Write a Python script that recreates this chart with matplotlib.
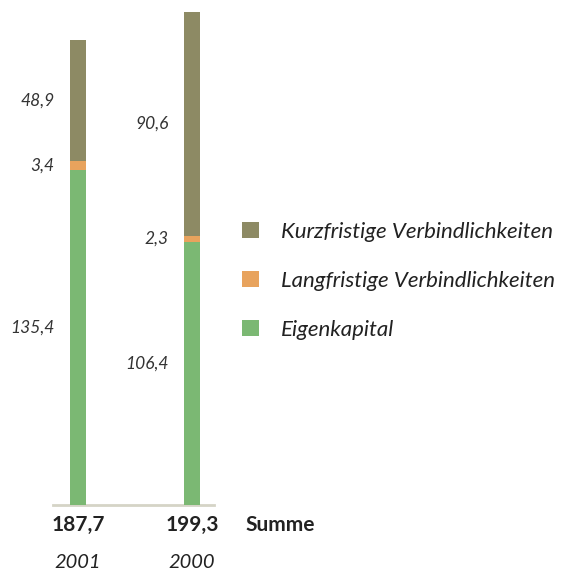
import matplotlib.pyplot as plt
import numpy as np

# Daten (Mio.)
jahre = ['2001', '2000']
summen = ['187,7', '199,3']
eigenkapital = [135.4, 106.4]
langfristig = [3.4, 2.3]
kurzfristig = [48.9, 90.6]

serien = ['Eigenkapital', 'Langfristige Verbindlichkeiten', 'Kurzfristige Verbindlichkeiten']
farben = ['#7bb873', '#e8a35d', '#8d8a64']

plt.rcParams['font.family'] = ['Lato', 'DejaVu Sans']

W, H = 568, 573
fig = plt.figure(figsize=(W / 100, H / 100), dpi=100)

# Achse in Pixelkoordinaten ausrichten
base_px = 505
x0_px, x1_px = 53, 214
ax = fig.add_axes([x0_px / W, (H - base_px) / H, (x1_px - x0_px) / W, base_px / H])
px_per_x = 114.0
ax.set_xlim(-(78 - x0_px) / px_per_x, 1 + (x1_px - 192) / px_per_x)
ax.set_ylim(0, base_px / 2.475)
ax.axis('off')

x = np.arange(len(jahre))
bw = 16 / px_per_x
bottom = np.zeros(len(jahre))
bars = []
for werte, name, farbe in zip([eigenkapital, langfristig, kurzfristig], serien, farben):
    b = ax.bar(x, werte, bw, bottom=bottom, color=farbe, label=name, zorder=2)
    bars.append(b)
    for xi, v, b0 in zip(x, werte, bottom):
        ax.text(xi - 0.205, b0 + v / 2 + (4 if v > 100 else 0), f"{v:.1f}".replace('.', ','),
                ha='right', va='center', fontsize=12.5, style='italic', color='#333333')
    bottom = bottom + np.array(werte)

ax.axhline(0, color='#d5d4c6', lw=2, zorder=1, clip_on=False)

# Summen und Jahre
for xi, s, j in zip(x, summen, jahre):
    ax.annotate(s, (xi, 0), xytext=(0, -20), textcoords='offset pixels', ha='center', va='center',
                fontsize=15, fontweight='bold', color='#222222', annotation_clip=False)
    ax.annotate(j, (xi, 0), xytext=(0, -57), textcoords='offset pixels', ha='center', va='center',
                fontsize=14.5, style='italic', color='#222222', annotation_clip=False)
fig.text(245 / W, 1 - 525 / H, 'Summe', ha='left', va='center', fontsize=15,
         fontweight='bold', color='#222222')

# Legende
handles = [bars[2], bars[1], bars[0]]
labels = [serien[2], serien[1], serien[0]]
leg = fig.legend(handles, labels, loc='upper left', bbox_to_anchor=(224 / W, 1 - 204 / H),
                 frameon=False, handlelength=0.77, handleheight=0.77, handletextpad=1.0,
                 labelspacing=1.3, borderpad=0.3, prop={'size': 16, 'style': 'italic'})
for t in leg.get_texts():
    t.set_color('#222222')

fig.savefig('out.png', dpi=100)
